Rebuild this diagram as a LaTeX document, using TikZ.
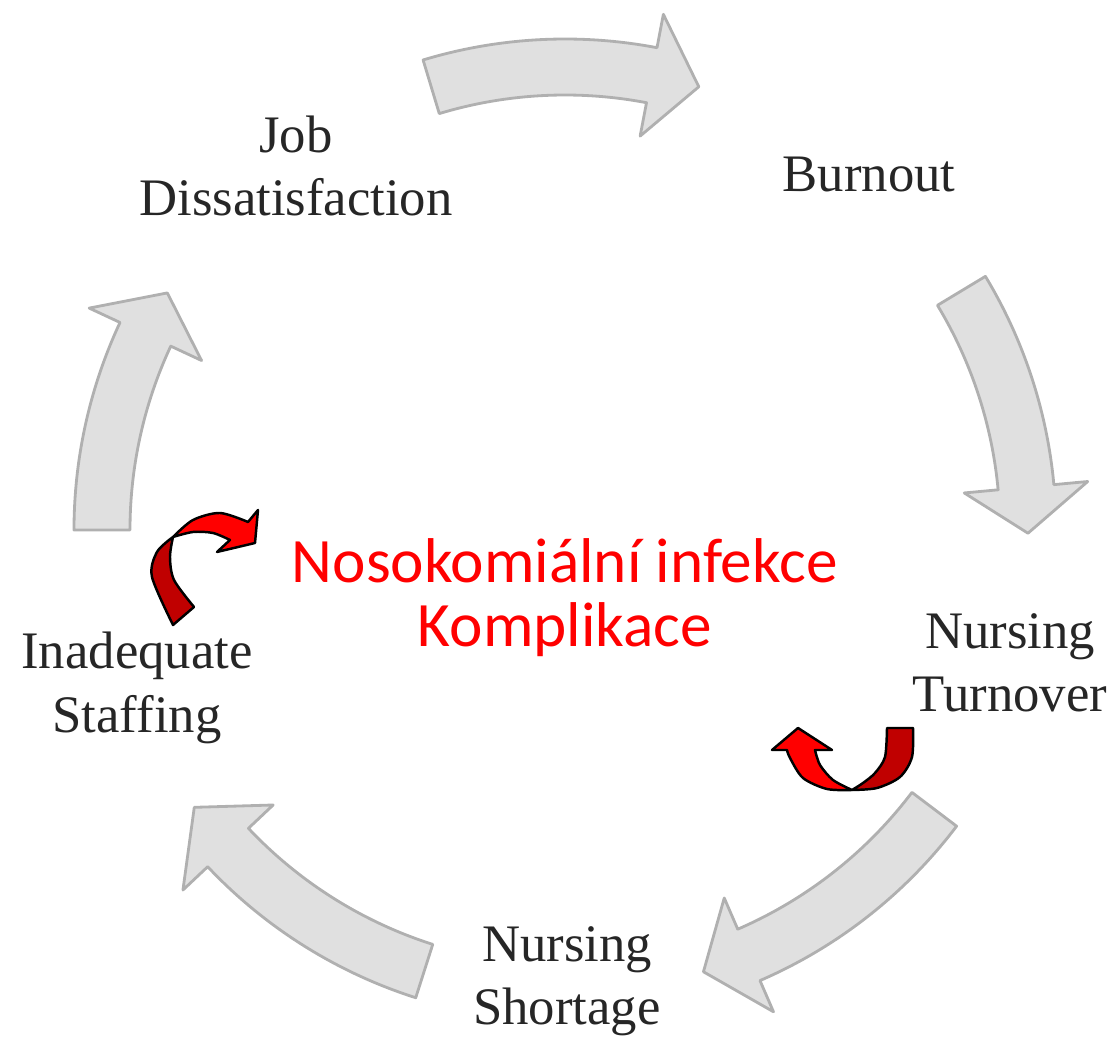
\documentclass[tikz,border=0pt]{standalone}
\usepackage{fontspec}
\setmainfont{Liberation Serif}
\newfontfamily\calibri{Carlito}
\usepackage{xcolor}
\usetikzlibrary{calc}

\definecolor{darkred}{HTML}{C00000}
\tikzset{
  cyclearrow/.style={fill=gray!24, draw=gray!62, line width=1.6pt, line join=round},
  cyclelabel/.style={font=\fontsize{30}{36}\selectfont, align=center, text=black!85},
  twistdark/.style={fill=darkred, draw=black, line width=1.4pt, line join=round},
  twistlight/.style={fill=red, draw=black, line width=1.4pt, line join=round}
}

\begin{document}
\begin{tikzpicture}[x=0.02cm, y=0.02cm]
\useasboundingbox (0,0) rectangle (1117,1038);

% Gray arrows around the cycle
\begin{scope}[shift={(565,508)}]
\foreach \ta/\hb/\tp in {106.8/79.2/73.2, 31.1/5.3/-0.4, -37.1/-66.6/-72.6, -107.7/-136.7/-143.2, 180/155/149.2} {
    \draw[cyclearrow] (\ta:491) arc[start angle=\ta, end angle=\hb, radius=491]
        -- (\hb:525) -- (\tp:463) -- (\hb:401) -- (\hb:435)
        arc[start angle=\hb, end angle=\ta, radius=435] -- cycle;
}
\end{scope}

% Labels of the cycle
\node[cyclelabel] (job) at (296,872) {Job\\Dissatisfaction};
\node[cyclelabel] (burnout) at (869,863) {Burnout};
\node[cyclelabel] (turnover) at (1010,375) {Nursing\\Turnover};
\node[cyclelabel] (shortage) at (567,57) {Nursing\\Shortage};
\node[cyclelabel] (staffing) at (137,350) {Inadequate\\Staffing};

% Red text in the middle
\node[text=red, font={\calibri\fontsize{36}{36.3}\selectfont}, align=center] (infekce) at (565,440) {Nosokomiální infekce\\Komplikace};

% Left twisted arrow
\draw[twistdark] plot[smooth] coordinates {(173,413) (152,461) (157,486) (173,501)}
    -- plot[smooth] coordinates {(173,501) (170,481) (174,458) (194,431)} -- cycle;
\draw[twistlight] plot[smooth] coordinates {(173,501) (193,518) (220,525) (248,516)}
    -- (258,528) -- (255,495) -- (217,486)
    -- plot[smooth] coordinates {(230,498) (213,505) (193,506) (173,501)} -- cycle;

% Right twisted arrow
\draw[twistdark] (887,310) -- (913,310)
    -- plot[smooth] coordinates {(913,310) (912,281) (900,261) (877,250) (852,248)}
    -- plot[smooth] coordinates {(852,248) (863,255) (875,265) (885,281) (887,310)} -- cycle;
\draw[twistlight] plot[smooth] coordinates {(852,248) (827,249) (803,260) (790,280) (787,288)}
    -- (772,288) -- (798,310) -- (832,288)
    -- plot[smooth] coordinates {(815,288) (820,273) (833,258) (852,248)} -- cycle;
\end{tikzpicture}
\end{document}
